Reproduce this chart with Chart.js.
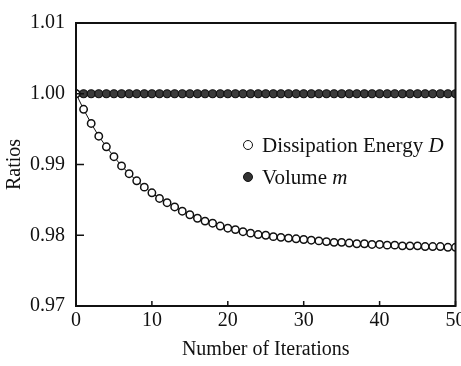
<!DOCTYPE html>
<html>
<head>
<meta charset="utf-8">
<script src="https://cdn.jsdelivr.net/npm/chart.js@4/dist/chart.umd.min.js"></script>
<style>
  body { margin: 0; background: #fff; }
  #wrap { position: relative; width: 461px; height: 366px; }
  #legend { position: absolute; left: 0; top: 0; font-family: "Liberation Serif", serif; font-size: 21px; color: #111; }
  .item { position: absolute; white-space: nowrap; line-height: 22px; }
  .dot { position: absolute; width: 10px; height: 10px; border-radius: 50%; border: 1.5px solid #111; box-sizing: border-box; }
</style>
</head>
<body>
<div id="wrap">
  <canvas id="myChart" width="461" height="366"></canvas>
  <div id="legend">
    <div class="dot" style="left:243px; top:140px; background:#fff;"></div>
    <div class="item" style="left:262px; top:134px;">Dissipation Energy <i>D</i></div>
    <div class="dot" style="left:243px; top:172px; background:#333;"></div>
    <div class="item" style="left:262px; top:166px;">Volume <i>m</i></div>
  </div>
</div>
<script>
// データ
const iterations = [
  0, 1, 2, 3, 4, 5, 6, 7, 8, 9, 10, 11, 12, 13, 14, 15, 16, 17, 18, 19, 20,
  21, 22, 23, 24, 25, 26, 27, 28, 29, 30, 31, 32, 33, 34, 35, 36, 37, 38, 39, 40,
  41, 42, 43, 44, 45, 46, 47, 48, 49, 50
];
const energyRatio = [
  1.0000, 0.9978, 0.9958, 0.9940, 0.9925, 0.9911, 0.9898, 0.9887, 0.9877, 0.9868, 0.9860,
  0.9852, 0.9846, 0.9840, 0.9834, 0.9829, 0.9824, 0.9820, 0.9817, 0.9813, 0.9810,
  0.9808, 0.9805, 0.9803, 0.9801, 0.9800, 0.9798, 0.9797, 0.9796, 0.9795, 0.9794,
  0.9793, 0.9792, 0.9791, 0.9790, 0.9790, 0.9789, 0.9788, 0.9788, 0.9787, 0.9787,
  0.9786, 0.9786, 0.9785, 0.9785, 0.9785, 0.9784, 0.9784, 0.9784, 0.9783, 0.9783
];
const volumeRatio = [
  1, 1, 1, 1, 1, 1, 1, 1, 1, 1, 1,
  1, 1, 1, 1, 1, 1, 1, 1, 1, 1,
  1, 1, 1, 1, 1, 1, 1, 1, 1, 1,
  1, 1, 1, 1, 1, 1, 1, 1, 1, 1,
  1, 1, 1, 1, 1, 1, 1, 1, 1, 1
];
const xTicks = [0, 10, 20, 30, 40, 50];
const yTicks = [0.97, 0.98, 0.99, 1.00, 1.01];

const font = { family: '"Liberation Serif", serif', size: 20 };

// 枠と内向きの目盛り
const framePlugin = {
  id: 'frame',
  afterDraw(chart) {
    const { ctx, chartArea: a, scales } = chart;
    ctx.save();
    ctx.strokeStyle = '#111';
    ctx.lineWidth = 2;
    ctx.strokeRect(a.left, a.top, a.right - a.left, a.bottom - a.top);
    ctx.lineWidth = 1.5;
    ctx.beginPath();
    yTicks.forEach(v => {
      const y = scales.y.getPixelForValue(v);
      ctx.moveTo(a.left, y);
      ctx.lineTo(a.left + 8, y);
    });
    xTicks.forEach(v => {
      const x = scales.x.getPixelForValue(v);
      ctx.moveTo(x, a.bottom);
      ctx.lineTo(x, a.bottom - 5);
    });
    ctx.stroke();
    ctx.restore();
  }
};

const ctx = document.getElementById('myChart').getContext('2d');
new Chart(ctx, {
  type: 'line',
  data: {
    datasets: [{
      label: 'Dissipation Energy D',
      data: iterations.map((x, i) => ({ x: x, y: energyRatio[i] })),
      borderColor: '#111',
      borderWidth: 1,
      pointRadius: 3.7,
      pointBorderWidth: 1.5,
      pointBackgroundColor: '#fff',
      pointBorderColor: '#111',
      tension: 0
    }, {
      label: 'Volume m',
      data: iterations.map((x, i) => ({ x: x, y: volumeRatio[i] })),
      borderColor: '#111',
      borderWidth: 1,
      pointRadius: 4,
      pointBorderWidth: 1.2,
      pointBackgroundColor: '#3a3a3a',
      pointBorderColor: '#111',
      tension: 0
    }]
  },
  options: {
    responsive: false,
    animation: false,
    layout: { padding: { top: 12, right: 4, left: 0, bottom: 0 } },
    plugins: { legend: { display: false }, tooltip: { enabled: false } },
    scales: {
      x: {
        type: 'linear',
        min: 0, max: 50,
        afterBuildTicks: s => { s.ticks = xTicks.map(v => ({ value: v })); },
        afterFit: s => { s.height = 60; s.paddingLeft = 0; s.paddingRight = 0; },
        grid: { display: false, drawTicks: false },
        border: { display: false },
        ticks: { color: '#111', font: font, padding: 3, maxRotation: 0 },
        title: { display: true, text: 'Number of Iterations', color: '#111', font: font, padding: { top: 6 } }
      },
      y: {
        min: 0.97, max: 1.01,
        afterBuildTicks: s => { s.ticks = yTicks.map(v => ({ value: v })); },
        afterFit: s => { s.width = 76; },
        grid: { display: false, drawTicks: false },
        border: { display: false },
        ticks: { color: '#111', font: font, padding: 11, callback: v => v.toFixed(2) },
        title: { display: true, text: 'Ratios', color: '#111', font: font, padding: { top: 3, bottom: 0 } }
      }
    }
  },
  plugins: [framePlugin]
});
</script>
</body>
</html>
